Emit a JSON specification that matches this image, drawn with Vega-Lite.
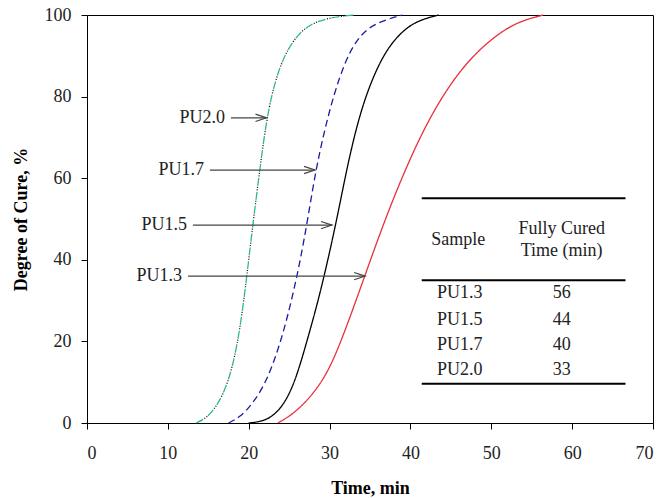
{
  "$schema": "https://vega.github.io/schema/vega-lite/v6.json",
  "width": 566,
  "height": 408,
  "autosize": "none",
  "padding": {"left": 87, "top": 15, "right": 8, "bottom": 75},
  "background": "white",
  "config": {
    "view": {"stroke": "black", "strokeWidth": 1},
    "font": "Liberation Serif",
    "axis": {
      "grid": false,
      "domainColor": "black",
      "tickColor": "black",
      "labelColor": "#222",
      "labelFont": "Liberation Serif",
      "labelFontSize": 18,
      "titleFont": "Liberation Serif",
      "titleFontSize": 18,
      "titleFontWeight": "bold",
      "titleColor": "black",
      "tickSize": 6
    }
  },
  "datasets": {
    "curves": [
      {"s": "PU2.0", "t": 13.5, "c": 0}, {"s": "PU2.0", "t": 14.8, "c": 1.2}, {"s": "PU2.0", "t": 16.2, "c": 4.5}, {"s": "PU2.0", "t": 17.5, "c": 10}, {"s": "PU2.0", "t": 18.6, "c": 19}, {"s": "PU2.0", "t": 19.4, "c": 30}, {"s": "PU2.0", "t": 20.0, "c": 40}, {"s": "PU2.0", "t": 20.6, "c": 50}, {"s": "PU2.0", "t": 21.3, "c": 61}, {"s": "PU2.0", "t": 22.1, "c": 73}, {"s": "PU2.0", "t": 22.9, "c": 81}, {"s": "PU2.0", "t": 23.8, "c": 87}, {"s": "PU2.0", "t": 24.8, "c": 91.5}, {"s": "PU2.0", "t": 26.0, "c": 95}, {"s": "PU2.0", "t": 27.6, "c": 97.8}, {"s": "PU2.0", "t": 30, "c": 99.4}, {"s": "PU2.0", "t": 33, "c": 100},
      {"s": "PU1.7", "t": 17.5, "c": 0}, {"s": "PU1.7", "t": 19, "c": 1.5}, {"s": "PU1.7", "t": 20.6, "c": 5}, {"s": "PU1.7", "t": 22.3, "c": 10.5}, {"s": "PU1.7", "t": 24.0, "c": 20}, {"s": "PU1.7", "t": 25.3, "c": 30}, {"s": "PU1.7", "t": 26.4, "c": 40}, {"s": "PU1.7", "t": 27.3, "c": 50}, {"s": "PU1.7", "t": 28.3, "c": 62}, {"s": "PU1.7", "t": 29.4, "c": 72}, {"s": "PU1.7", "t": 30.6, "c": 81}, {"s": "PU1.7", "t": 32.0, "c": 89}, {"s": "PU1.7", "t": 33.5, "c": 94.5}, {"s": "PU1.7", "t": 35.5, "c": 98}, {"s": "PU1.7", "t": 39, "c": 100},
      {"s": "PU1.5", "t": 20, "c": 0}, {"s": "PU1.5", "t": 21.8, "c": 0.4}, {"s": "PU1.5", "t": 23.2, "c": 2}, {"s": "PU1.5", "t": 24.5, "c": 5}, {"s": "PU1.5", "t": 25.8, "c": 10.5}, {"s": "PU1.5", "t": 27.2, "c": 20}, {"s": "PU1.5", "t": 28.6, "c": 30}, {"s": "PU1.5", "t": 29.8, "c": 40}, {"s": "PU1.5", "t": 30.9, "c": 50}, {"s": "PU1.5", "t": 31.9, "c": 60}, {"s": "PU1.5", "t": 33.0, "c": 70}, {"s": "PU1.5", "t": 34.4, "c": 80}, {"s": "PU1.5", "t": 36.4, "c": 89.5}, {"s": "PU1.5", "t": 38.4, "c": 95}, {"s": "PU1.5", "t": 40.6, "c": 98.5}, {"s": "PU1.5", "t": 43.5, "c": 100},
      {"s": "PU1.3", "t": 23.6, "c": 0}, {"s": "PU1.3", "t": 25.2, "c": 1.8}, {"s": "PU1.3", "t": 27.3, "c": 5.5}, {"s": "PU1.3", "t": 29.8, "c": 12}, {"s": "PU1.3", "t": 32.1, "c": 23.5}, {"s": "PU1.3", "t": 34.4, "c": 36.3}, {"s": "PU1.3", "t": 36.6, "c": 48.5}, {"s": "PU1.3", "t": 38.9, "c": 60}, {"s": "PU1.3", "t": 41.5, "c": 71.5}, {"s": "PU1.3", "t": 44.2, "c": 81}, {"s": "PU1.3", "t": 47.0, "c": 88.5}, {"s": "PU1.3", "t": 49.9, "c": 94}, {"s": "PU1.3", "t": 53.0, "c": 98.2}, {"s": "PU1.3", "t": 56.4, "c": 100}
    ],
    "arrows": [
      {"label": "PU2.0", "x1": 17.8, "x2": 22.2, "y": 74.8},
      {"label": "PU1.7", "x1": 15.2, "x2": 28.2, "y": 62.0},
      {"label": "PU1.5", "x1": 13.1, "x2": 30.3, "y": 48.5},
      {"label": "PU1.3", "x1": 12.5, "x2": 34.4, "y": 36.0}
    ],
    "tablelines": [
      {"x1": 41.4, "x2": 66.6, "y": 55.1},
      {"x1": 41.4, "x2": 66.6, "y": 35.0},
      {"x1": 41.4, "x2": 66.6, "y": 9.6}
    ],
    "tabletext": [
      {"txt": "Sample", "x": 45.9, "y": 44.9},
      {"txt": "Fully Cured", "x": 58.7, "y": 47.6},
      {"txt": "Time (min)", "x": 58.7, "y": 42.2},
      {"txt": "PU1.3", "x": 46.1, "y": 31.9},
      {"txt": "PU1.5", "x": 46.1, "y": 25.3},
      {"txt": "PU1.7", "x": 46.1, "y": 19.1},
      {"txt": "PU2.0", "x": 46.1, "y": 13.0},
      {"txt": "56", "x": 58.7, "y": 31.9},
      {"txt": "44", "x": 58.7, "y": 25.3},
      {"txt": "40", "x": 58.7, "y": 19.1},
      {"txt": "33", "x": 58.7, "y": 13.0}
    ]
  },
  "layer": [
    {
      "data": {"name": "curves"},
      "mark": {"type": "line", "strokeWidth": 1.3, "interpolate": "basis"},
      "encoding": {
        "x": {"field": "t", "type": "quantitative", "scale": {"domain": [0, 70], "nice": false}, "axis": {"values": [0, 10, 20, 30, 40, 50, 60, 70], "title": "Time, min", "labelPadding": 15, "titlePadding": 17}},
        "y": {"field": "c", "type": "quantitative", "scale": {"domain": [0, 100], "nice": false}, "axis": {"values": [0, 20, 40, 60, 80, 100], "title": "Degree of Cure, %", "labelPadding": 10, "titlePadding": 14}},
        "detail": {"field": "s"},
        "color": {"field": "s", "type": "nominal", "scale": {"domain": ["PU1.3", "PU1.5", "PU1.7", "PU2.0"], "range": ["#e8303a", "#000000", "#1c1c9e", "#2fb596"]}, "legend": null},
        "strokeDash": {"field": "s", "type": "nominal", "scale": {"domain": ["PU1.3", "PU1.5", "PU1.7", "PU2.0"], "range": [[1, 0], [1, 0], [7, 4], [8, 6]]}, "legend": null}
      }
    },
    {
      "data": {"name": "curves"},
      "transform": [{"filter": "datum.s === 'PU2.0'"}],
      "mark": {"type": "line", "strokeWidth": 1.3, "interpolate": "basis", "color": "#111", "strokeDash": [1, 1.5, 1, 10.5], "strokeDashOffset": 4.5},
      "encoding": {
        "x": {"field": "t", "type": "quantitative"},
        "y": {"field": "c", "type": "quantitative"}
      }
    },
    {
      "data": {"name": "arrows"},
      "mark": {"type": "rule", "color": "#444", "strokeWidth": 1.2},
      "encoding": {
        "x": {"field": "x1", "type": "quantitative"},
        "x2": {"field": "x2"},
        "y": {"field": "y", "type": "quantitative"}
      }
    },
    {
      "data": {"name": "arrows"},
      "mark": {"type": "point", "shape": "M-1,-0.33L0,0L-1,0.33", "filled": false, "stroke": "#444", "strokeWidth": 1.2, "size": 484, "opacity": 1},
      "encoding": {
        "x": {"field": "x2", "type": "quantitative"},
        "y": {"field": "y", "type": "quantitative"}
      }
    },
    {
      "data": {"name": "arrows"},
      "mark": {"type": "text", "align": "right", "baseline": "middle", "dx": -6, "font": "Liberation Serif", "fontSize": 18, "color": "#222"},
      "encoding": {
        "x": {"field": "x1", "type": "quantitative"},
        "y": {"field": "y", "type": "quantitative"},
        "text": {"field": "label"}
      }
    },
    {
      "data": {"name": "tablelines"},
      "mark": {"type": "rule", "color": "black", "strokeWidth": 2},
      "encoding": {
        "x": {"field": "x1", "type": "quantitative"},
        "x2": {"field": "x2"},
        "y": {"field": "y", "type": "quantitative"}
      }
    },
    {
      "data": {"name": "tabletext"},
      "mark": {"type": "text", "align": "center", "baseline": "middle", "font": "Liberation Serif", "fontSize": 18, "color": "#222"},
      "encoding": {
        "x": {"field": "x", "type": "quantitative"},
        "y": {"field": "y", "type": "quantitative"},
        "text": {"field": "txt"}
      }
    }
  ]
}
